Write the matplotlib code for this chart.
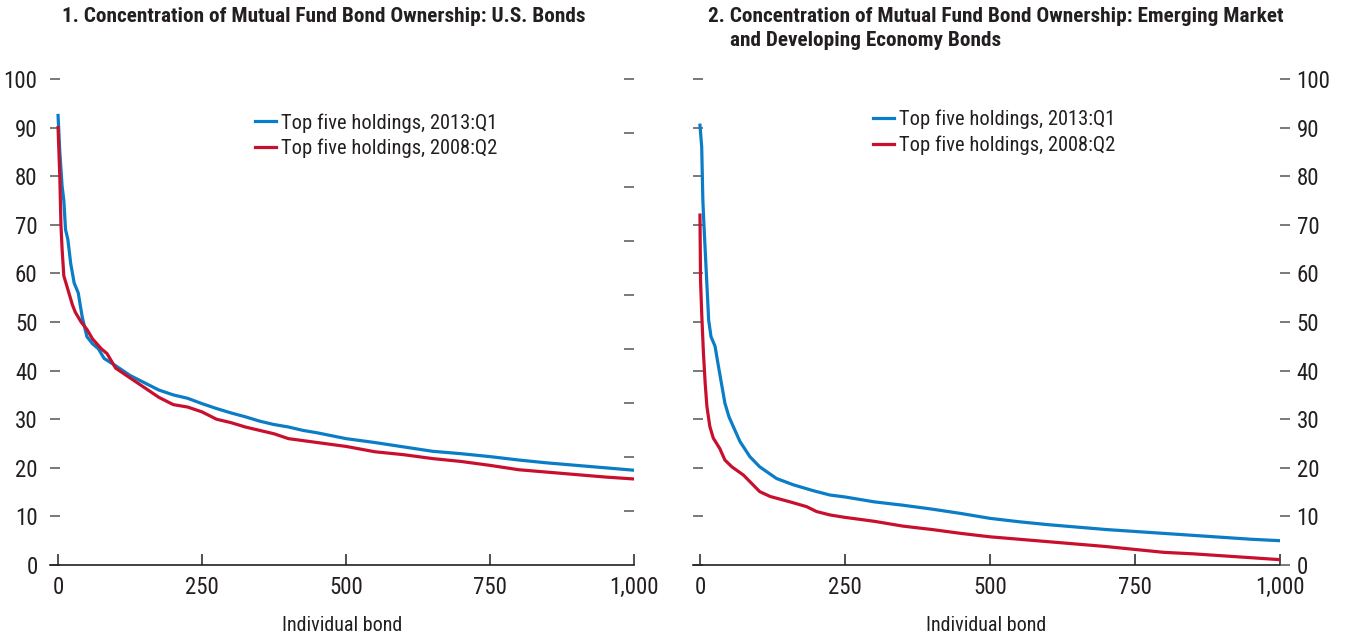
import numpy as np
import matplotlib
matplotlib.use("Agg")
import matplotlib.pyplot as plt

plt.rcParams["font.family"] = ["Liberation Sans Narrow", "Roboto Condensed",
                               "Liberation Sans", "DejaVu Sans"]

BLUE = "#0A7DC6"
RED = "#C8102E"
TEXT = "#231F20"

# Panel 1: U.S. bonds (share of top five holders, percent)
us_x_2013 = [0, 3, 7, 10, 13, 17, 22, 28, 35, 42, 50, 60, 70, 80, 100, 125, 150, 175,
             200, 225, 250, 275, 300, 325, 350, 375, 400, 425, 450, 475, 500, 550, 600,
             650, 700, 750, 800, 850, 900, 950, 1000]
us_y_2013 = [92.5, 85, 78, 75, 69, 67, 62, 58, 56, 51, 47, 45.5, 44.5, 42.5, 41, 39, 37.5,
             36, 35, 34.3, 33.2, 32.2, 31.3, 30.5, 29.6, 28.9, 28.4, 27.7, 27.2, 26.6, 26,
             25.2, 24.3, 23.4, 22.9, 22.3, 21.6, 21.0, 20.5, 20.0, 19.5]
us_x_2008 = [0, 3, 5, 7, 10, 15, 20, 25, 30, 40, 50, 60, 75, 85, 100, 125, 150, 175, 200,
             225, 250, 275, 300, 325, 350, 375, 400, 450, 500, 550, 600, 650, 700, 750,
             800, 850, 900, 950, 1000]
us_y_2008 = [90, 80, 70, 65, 59.5, 57.5, 55.5, 53.5, 52, 50, 48.5, 46.5, 44.5, 43.5, 40.5,
             38.5, 36.5, 34.5, 33, 32.5, 31.5, 30, 29.3, 28.4, 27.7, 27, 26, 25.2, 24.4,
             23.3, 22.7, 21.9, 21.3, 20.5, 19.6, 19.1, 18.6, 18.1, 17.7]

# Panel 2: emerging market and developing economy bonds
em_x_2013 = [0, 3, 5, 7, 11, 15, 19, 26, 32, 37, 43, 50, 60, 69, 86, 103, 132, 161, 195,
             224, 250, 300, 350, 400, 450, 500, 550, 600, 650, 700, 750, 800, 850, 900,
             950, 1000]
em_y_2013 = [90.5, 86, 75, 69.6, 60, 50.4, 47, 45, 40.8, 37.4, 33.3, 30.5, 27.8, 25.4,
             22.3, 20.2, 17.8, 16.5, 15.3, 14.4, 14, 13, 12.3, 11.5, 10.6, 9.6, 8.9, 8.3,
             7.8, 7.3, 6.9, 6.5, 6.1, 5.7, 5.3, 5.0]
em_x_2008 = [0, 1, 3, 6, 9, 12, 17, 23, 34, 43, 55, 75, 89, 103, 121, 155, 184, 201, 224,
             250, 300, 350, 400, 450, 500, 550, 600, 650, 700, 750, 800, 850, 900, 950,
             1000]
em_y_2008 = [72, 58.6, 51.8, 43.6, 37.4, 32.6, 28.5, 26.1, 24, 21.6, 20.2, 18.5, 16.8,
             15.1, 14.1, 13.0, 12.0, 11.0, 10.3, 9.8, 9.0, 8.0, 7.3, 6.5, 5.8, 5.3, 4.8,
             4.3, 3.8, 3.2, 2.6, 2.3, 1.9, 1.5, 1.1]

LABEL_2013 = "Top five holdings, 2013:Q1"
LABEL_2008 = "Top five holdings, 2008:Q2"
x_ticks = [0, 250, 500, 750, 1000]
x_ticklabels = ["0", "250", "500", "750", "1,000"]
y_ticks = list(range(0, 101, 10))

W, H = 1345, 637
fig = plt.figure(figsize=(W / 100, H / 100), dpi=100)


def px_axes(left, right, top, bottom):
    return fig.add_axes([left / W, 1 - bottom / H, (right - left) / W, (bottom - top) / H])


def style_base(ax, xmin):
    ax.set_xlim(xmin, 1000)
    ax.set_ylim(0, 100)
    for side in ("top", "left", "right"):
        ax.spines[side].set_visible(False)
    ax.spines["bottom"].set_color(TEXT)
    ax.spines["bottom"].set_linewidth(1.2)
    ax.set_xticks(x_ticks)
    ax.set_xticklabels(x_ticklabels)
    ax.tick_params(axis="x", direction="in", length=8, width=1.1, color=TEXT,
                   labelsize=16.5, labelcolor=TEXT, pad=8)
    ax.set_xlabel("Individual bond", fontsize=14.5, color=TEXT, labelpad=12)
    ax.set_facecolor("none")


legend_kw = dict(loc="upper left", frameon=False, fontsize=14.8, handlelength=1.0,
                 handletextpad=0.25, labelspacing=0.3, borderpad=0, borderaxespad=0,
                 labelcolor=TEXT)

# ---- panel 1
ax1 = px_axes(50, 634, 79, 565)
style_base(ax1, -14)
ax1.plot(us_x_2013, us_y_2013, color=BLUE, lw=2.3, label=LABEL_2013)
ax1.plot(us_x_2008, us_y_2008, color=RED, lw=2.3, label=LABEL_2008)
ax1.set_yticks(y_ticks)
ax1.tick_params(axis="y", direction="in", length=7, width=1.1, color="#555555",
                labelsize=16.5, labelcolor=TEXT, pad=9, left=True, right=False)
ax1r = ax1.twinx()
ax1r.set_ylim(0, 100)
ax1r.set_yticks(np.linspace(0, 100, 10)[1:])
ax1r.tick_params(axis="y", direction="in", length=7, width=1.1, color="#555555",
                 labelright=False)
for side in ("top", "left", "right", "bottom"):
    ax1r.spines[side].set_visible(False)
ax1.legend(bbox_to_anchor=(0.351, 0.93), **legend_kw)

# ---- panel 2
ax2 = px_axes(693, 1280, 79, 565)
style_base(ax2, -12)
ax2.plot(em_x_2013, em_y_2013, color=BLUE, lw=2.3, label=LABEL_2013)
ax2.plot(em_x_2008, em_y_2008, color=RED, lw=2.3, label=LABEL_2008)
ax2.set_yticks(y_ticks)
ax2.tick_params(axis="y", direction="in", length=7, width=1.1, color="#555555",
                labelleft=False, left=True, right=False)
ax2r = ax2.twinx()
ax2r.set_ylim(0, 100)
ax2r.set_yticks(y_ticks)
ax2r.tick_params(axis="y", direction="out", length=7, width=1.1, color="#555555",
                 labelsize=16.5, labelcolor=TEXT, pad=5)
for side in ("top", "left", "right", "bottom"):
    ax2r.spines[side].set_visible(False)
ax2.legend(bbox_to_anchor=(0.307, 0.937), **legend_kw)

# ---- titles
title_kw = dict(fontsize=15.3, fontweight="bold", color=TEXT, va="top", ha="left")
fig.text(62 / W, 1 - 7 / H, "1. Concentration of Mutual Fund Bond Ownership: U.S. Bonds",
         **title_kw)
fig.text(708 / W, 1 - 7 / H,
         "2. Concentration of Mutual Fund Bond Ownership: Emerging Market", **title_kw)
fig.text(730 / W, 1 - 31 / H, "and Developing Economy Bonds", **title_kw)

fig.savefig("out.png", dpi=100)
